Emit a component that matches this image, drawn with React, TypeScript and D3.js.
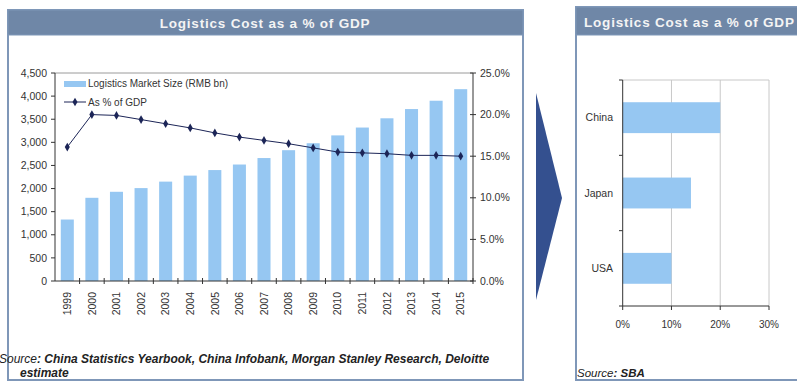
import React from "react";
import * as d3 from "d3";

const years = ["1999","2000","2001","2002","2003","2004","2005","2006","2007","2008","2009","2010","2011","2012","2013","2014","2015"];
const marketSize = [1330,1800,1930,2010,2150,2280,2400,2520,2660,2830,2980,3150,3320,3520,3720,3900,4150];
const pctGdp = [16.1,20.0,19.9,19.4,18.9,18.4,17.8,17.3,16.9,16.5,16.0,15.5,15.4,15.3,15.1,15.1,15.0];
const leftTicks = [0,500,1000,1500,2000,2500,3000,3500,4000,4500];
const rightTicks = [0,5,10,15,20,25];
const countries = ["China","Japan","USA"];
const countryPct = [20,14,10];
const pctTicks = [0,10,20,30];

const FONT = "'Liberation Sans', Arial, sans-serif";
const BAR = "#96c7f2";
const NAVY = "#1c2557";
const TITLE_BG = "#6f87a7";
const BORDER = "#7f97b8";

export default function App() {
  // Left chart
  const x = d3.scaleBand<string>().domain(years).range([55, 473]).paddingInner(0.47).paddingOuter(0.235);
  const xb = d3.scaleBand<string>().domain(years).range([55, 473]);
  const yL = d3.scaleLinear().domain([0, 4500]).range([281, 73]);
  const yR = d3.scaleLinear().domain([0, 25]).range([281, 73]);
  const line = d3.line<number>().x((_, i) => (xb(years[i]) as number) + xb.bandwidth() / 2).y((d) => yR(d));
  const diamond = d3.symbol().type(d3.symbolDiamond).size(22)() as string;

  // Right chart
  const yC = d3.scaleBand<string>().domain(countries).range([80, 306]).paddingInner(0.59).paddingOuter(0.295);
  const yCb = d3.scaleBand<string>().domain(countries).range([80, 306]);
  const xC = d3.scaleLinear().domain([0, 30]).range([622.7, 769]);

  return (
    <svg width={797} height={383} style={{ position: "absolute", left: 0, top: 0, background: "#fff" }} fontFamily={FONT}>
      {/* Left panel */}
      <rect x={8} y={10} width={515} height={370} fill="#fff" stroke={BORDER} strokeWidth={2} />
      <rect x={8} y={10} width={515} height={25} fill={TITLE_BG} stroke={BORDER} strokeWidth={1} />
      <text x={265} y={28} textAnchor="middle" fill="#f4f4f4" fontSize={13.5} fontWeight="bold" letterSpacing={0.8}>Logistics Cost as a % of GDP</text>

      {/* plot frame top */}
      <line x1={55} x2={473} y1={73} y2={73} stroke="#9a9a9a" strokeWidth={1} />

      {/* bars */}
      {years.map((yr, i) => (
        <rect key={yr} x={x(yr)} y={yL(marketSize[i])} width={x.bandwidth()} height={281 - yL(marketSize[i])} fill={BAR} />
      ))}

      {/* line */}
      <path d={line(pctGdp) as string} fill="none" stroke={NAVY} strokeWidth={1} />
      {pctGdp.map((v, i) => (
        <path key={i} d={diamond} transform={`translate(${(xb(years[i]) as number) + xb.bandwidth() / 2},${yR(v)})`} fill={NAVY} />
      ))}

      {/* left axis */}
      <line x1={55} x2={55} y1={73} y2={281} stroke="#333" strokeWidth={1} />
      {leftTicks.map((t) => (
        <g key={t}>
          <line x1={51} x2={55} y1={yL(t)} y2={yL(t)} stroke="#333" />
          <text x={47} y={yL(t)} dy="0.35em" textAnchor="end" fontSize={10.5} fill="#333">{d3.format(",")(t)}</text>
        </g>
      ))}

      {/* right axis */}
      <line x1={473} x2={473} y1={73} y2={281} stroke="#333" strokeWidth={1} />
      {rightTicks.map((t) => (
        <g key={t}>
          <line x1={470} x2={476} y1={yR(t)} y2={yR(t)} stroke="#333" />
          <text x={480} y={yR(t)} dy="0.35em" fontSize={10.5} fill="#333">{t.toFixed(1) + "%"}</text>
        </g>
      ))}

      {/* x axis */}
      <line x1={55} x2={473} y1={281} y2={281} stroke="#333" strokeWidth={1} />
      {years.map((yr) => (
        <line key={yr} x1={(xb(yr) as number) + xb.bandwidth()} x2={(xb(yr) as number) + xb.bandwidth()} y1={278} y2={284} stroke="#333" />
      ))}
      {years.map((yr) => (
        <text key={yr} transform={`translate(${(xb(yr) as number) + xb.bandwidth() / 2},292) rotate(-90)`} dy="0.35em" textAnchor="end" fontSize={10.5} fill="#333">{yr}</text>
      ))}

      {/* legend */}
      <rect x={64} y={81} width={22} height={6} fill={BAR} />
      <text x={88} y={83.5} dy="0.35em" fontSize={10} fill="#333">Logistics Market Size (RMB bn)</text>
      <line x1={64} x2={86} y1={102} y2={102} stroke={NAVY} strokeWidth={1} />
      <path d={diamond} transform="translate(75,102)" fill={NAVY} />
      <text x={88} y={102} dy="0.35em" fontSize={10} fill="#333">As % of GDP</text>

      {/* source */}
      <text x={-1} y={362.5} fontSize={12} fontStyle="italic" fill="#222">
        <tspan>Source</tspan>
        <tspan fontWeight="bold">: China Statistics Yearbook, China Infobank, Morgan Stanley Research, Deloitte</tspan>
      </text>
      <text x={20} y={376.5} fontSize={12} fontStyle="italic" fontWeight="bold" fill="#222">estimate</text>

      {/* Arrow */}
      <path d="M536,93 L562,198 L536,300 Z" fill="#34508f" />

      {/* Right panel */}
      <rect x={576} y={7} width={240} height={373} fill="#fff" stroke={BORDER} strokeWidth={2} />
      <rect x={576} y={7} width={240} height={28} fill={TITLE_BG} stroke={BORDER} strokeWidth={1} />
      <text x={584} y={27} fill="#f4f4f4" fontSize={13.5} fontWeight="bold" letterSpacing={0.8}>Logistics Cost as a % of GDP</text>

      {/* grid */}
      {pctTicks.slice(1).map((t) => (
        <line key={t} x1={xC(t)} x2={xC(t)} y1={80} y2={306} stroke="#c8c8c8" strokeWidth={1} />
      ))}
      <line x1={622.7} x2={769} y1={80} y2={80} stroke="#c8c8c8" strokeWidth={1} />

      {countries.map((c, i) => (
        <rect key={c} x={xC(0)} y={yC(c)} width={xC(countryPct[i]) - xC(0)} height={yC.bandwidth()} fill={BAR} />
      ))}

      <line x1={622.7} x2={622.7} y1={80} y2={306} stroke="#333" />
      <line x1={622.7} x2={769} y1={306} y2={306} stroke="#333" />
      {[80, ...countries.map((c) => (yCb(c) as number) + yCb.bandwidth())].map((yy, i) => (
        <line key={i} x1={619} x2={622.7} y1={yy} y2={yy} stroke="#333" />
      ))}
      {pctTicks.map((t) => (
        <g key={t}>
          <line x1={xC(t)} x2={xC(t)} y1={306} y2={310} stroke="#333" />
          <text x={xC(t)} y={324} dy="0.35em" textAnchor="middle" fontSize={10} fill="#333">{t + "%"}</text>
        </g>
      ))}
      {countries.map((c) => (
        <text key={c} x={613} y={(yCb(c) as number) + yCb.bandwidth() / 2} dy="0.35em" textAnchor="end" fontSize={10.5} fill="#333">{c}</text>
      ))}

      <text x={577} y={376.5} fontSize={11.5} fontStyle="italic" fill="#222">
        <tspan>Source</tspan>
        <tspan fontWeight="bold">: SBA</tspan>
      </text>
    </svg>
  );
}
